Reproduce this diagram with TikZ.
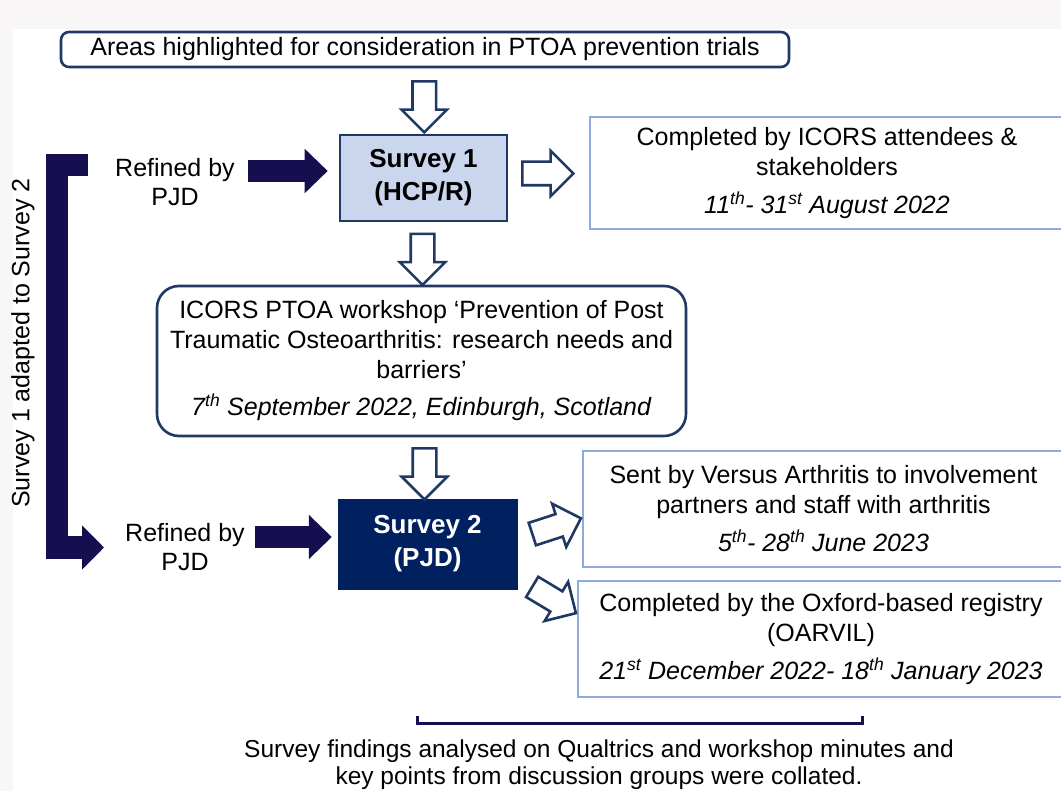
\documentclass[tikz,border=0pt]{standalone}
\usepackage{fontspec}
\setmainfont{Liberation Sans}
\usepackage{xcolor}
\usetikzlibrary{arrows.meta,shapes.arrows,calc}

\definecolor{navyline}{HTML}{1F3864}
\definecolor{navyfill}{HTML}{002060}
\definecolor{inkarrow}{HTML}{150F4F}
\definecolor{paleblue}{HTML}{C9D6EE}
\definecolor{skyline}{HTML}{8FAADC}
\definecolor{bggray}{HTML}{F8F6F7}

\begin{document}
\begin{tikzpicture}[x=1pt,y=-1pt,
  txt/.style={font=\fontsize{25}{30}\selectfont, align=center, inner sep=0pt},
  darkbox/.style={draw=navyline, line width=2.6pt},
  litebox/.style={txt, draw=skyline, line width=2.6pt, fill=white},
  hollowarr/.style={single arrow, draw=navyline, fill=white, line width=2.6pt,
    inner xsep=0pt, inner ysep=10.5pt, single arrow head extend=11pt, minimum height=51pt},
  solidarr/.style={draw=inkarrow, line width=22pt, -{Triangle[length=23pt,width=43pt]}},
]
    \path[use as bounding box] (0,0) rectangle (1061,791);
    \clip (0,0) rectangle (1061,791);
    \fill[bggray] (0,0) rectangle (1061,791);
    \fill[white] (13,29) rectangle (1061,791);

    % main column
    \node[txt, darkbox, rounded corners=8pt, minimum width=728pt, minimum height=35pt] (areas) at (425,49.5)
      {Areas highlighted for consideration in PTOA prevention trials};
    \node[txt, darkbox, fill=paleblue, minimum width=167pt, minimum height=86pt,
      font=\fontsize{26}{33}\selectfont\bfseries] (s1) at (423.5,178) {Survey 1\\(HCP/R)};
    \node[txt, darkbox, fill=white, rounded corners=22pt, minimum width=529pt, minimum height=150pt] (wshop) at (421.5,361)
      {ICORS PTOA workshop ‘Prevention of Post\\Traumatic Osteoarthritis: research needs and\\barriers’\\[7pt]
       \textit{7\textsuperscript{th} September 2022, Edinburgh, Scotland}};
    \node[txt, draw=navyfill, fill=navyfill, text=white, minimum width=179pt, minimum height=90pt,
      font=\fontsize{26}{33}\selectfont\bfseries] (s2) at (427.5,544) {Survey 2\\(PJD)};

    % right column
    \node[litebox, minimum width=474pt, minimum height=112pt] (icors) at (827,173)
      {Completed by ICORS attendees \&\\stakeholders\\[8pt]\textit{11\textsuperscript{th}- 31\textsuperscript{st} August 2022}};
    \node[litebox, minimum width=481pt, minimum height=116pt] (versus) at (823.5,509)
      {Sent by Versus Arthritis to involvement\\partners and staff with arthritis\\[8pt]\textit{5\textsuperscript{th}- 28\textsuperscript{th} June 2023}};
    \node[litebox, minimum width=486pt, minimum height=116pt] (oarvil) at (821,639)
      {Completed by the Oxford-based registry\\(OARVIL)\\[8pt]\textit{21\textsuperscript{st} December 2022- 18\textsuperscript{th} January 2023}};

    % left side
    \node[txt, font=\fontsize{25}{29}\selectfont] (ref1) at (175,182) {Refined by\\PJD};
    \node[txt, font=\fontsize{25}{29}\selectfont] (ref2) at (185,547.5) {Refined by\\PJD};
    \node[txt, rotate=90] (adapt) at (23,343) {Survey 1 adapted to Survey 2};

    % hollow arrows
    \node[hollowarr, rotate=-90] (a1) at ($(areas.south)!0.5!(s1.north)$) {};
    \node[hollowarr, rotate=-90] (a2) at ($(s1.south)!0.5!(wshop.north)$) {};
    \node[hollowarr, rotate=-90] (a3) at ($(wshop.south)!0.5!(s2.north)$) {};
    \node[hollowarr] (a4) at (542,173.5) {};
    \node[hollowarr, rotate=18] (a5) at (551,528) {};
    \node[hollowarr, rotate=-31] (a6) at (549,597) {};

    % solid arrows
    \coordinate (r1) at ([yshift=11pt]ref1.east);
    \coordinate (r2) at ([yshift=10.5pt]ref2.east);
    \draw[solidarr, shorten <=13pt, shorten >=11pt] (r1) -- (r1 -| s1.west);
    \draw[solidarr, shorten <=10pt, shorten >=6pt] (r2) -- (r2 -| s2.west);
    \coordinate (brk) at (88,165);
    \draw[solidarr, -{Triangle[length=22pt,width=43pt]}, shorten >=21pt]
      (brk) -- ++(-31,0) |- (ref2.west);

    % findings
    \node[txt, font=\fontsize{24.5}{27}\selectfont] (findings) at (599,765)
      {Survey findings analysed on Qualtrics and workshop minutes and\\key points from discussion groups were collated.};
    \draw[inkarrow, line width=3pt] (417,716) -- (417,723.5) -- (862,723.5) -- (862,716);
\end{tikzpicture}
\end{document}
